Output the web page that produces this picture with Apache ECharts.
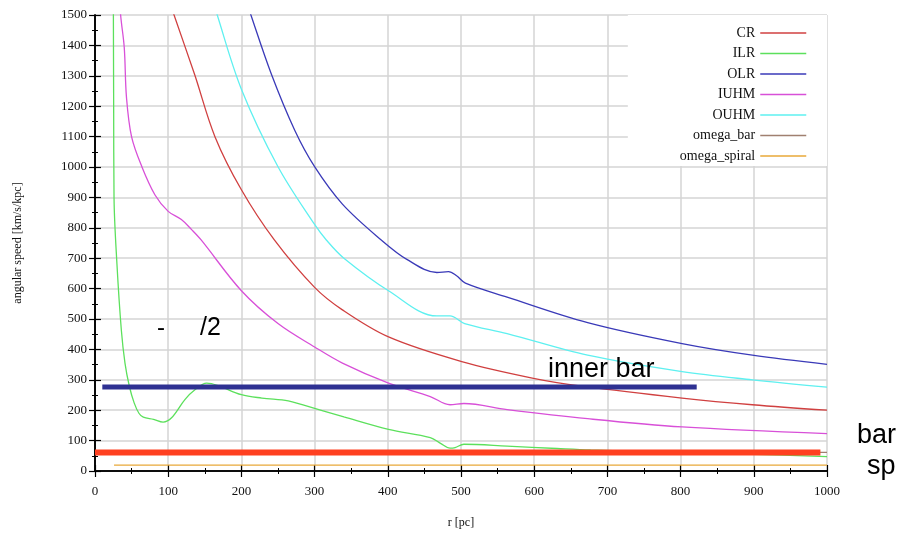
<!DOCTYPE html>
<html>
<head>
<meta charset="utf-8">
<script src="https://cdn.jsdelivr.net/npm/echarts@6/dist/echarts.min.js"></script>
<style>
  html, body { margin: 0; padding: 0; background: #fff; }
  #chart { width: 905px; height: 534px; }
</style>
</head>
<body>
<div id="chart"></div>
<script>
// r [pc], angular speed [km/s/kpc]
var crData = [[100, 1560], [108, 1500], [136, 1305], [164, 1099], [200, 925], [245, 760], [300, 604], [338, 530], [401, 441], [501, 360], [599, 305], [665, 279], [802, 240], [898, 218], [1000, 200]];
var ilrData = [[25, 1600], [25.5, 1200], [26, 900], [30, 680], [36, 463], [41, 354], [47, 278], [53.5, 224], [60, 190], [66, 177], [80, 170], [93, 161], [104.6, 175], [122.8, 235], [136.5, 267], [152.5, 289], [168, 281], [200, 251], [228, 240], [264, 231], [283, 218], [340, 178], [401, 137], [458, 110], [472, 91], [485, 75], [492, 77], [504, 88], [563, 82], [631, 74], [677, 69], [800, 60], [900, 55], [1000, 47]];
var olrData = [[205, 1560], [213, 1500], [241, 1305], [273, 1120], [300, 1001], [338, 878], [391, 760], [426, 696], [467, 653], [483, 656], [494, 642], [506, 618], [563, 572], [673, 488], [802, 419], [898, 381], [1000, 351]];
var iuhmData = [[34, 1560], [35, 1500], [40, 1392], [43, 1229], [50, 1099], [64, 1001], [82, 908], [100, 854], [118, 827], [132, 794], [145, 760], [200, 593], [250, 485], [300, 408], [338, 355], [401, 289], [458, 245], [485, 218], [504, 222], [563, 202], [673, 172], [802, 145], [1000, 123]];
var ouhmData = [[160, 1560], [167, 1500], [200, 1256], [250, 1001], [300, 811], [316, 760], [340, 700], [401, 593], [467, 510], [485, 510], [505, 485], [563, 452], [673, 381], [802, 327], [898, 300], [1000, 276]];
var omegaBarData = [[0, 61], [1000, 61]];
var omegaSpiralData = [[26, 19], [1000, 19]];
// hand-drawn markers on top of the plot
var innerBarLine = [[10, 276], [822, 276]];
var barLine = [[0, 61], [991, 61]];

var names = ["CR", "ILR", "OLR", "IUHM", "OUHM", "omega_bar", "omega_spiral"];
var colors = ["#d04040", "#5ce05c", "#3a3ab8", "#d850d8", "#5ef0f0", "#a08070", "#e8a838"];
var datas = [crData, ilrData, olrData, iuhmData, ouhmData, omegaBarData, omegaSpiralData];

var serif = "Liberation Serif";
var sans = "Liberation Sans";

var dom = document.getElementById("chart");
var myChart = echarts.init(dom, null, { renderer: "canvas" });

var series = [];
for (var i = 0; i < names.length; i++) {
  series.push({
    name: names[i],
    type: "line",
    data: datas[i],
    symbol: "none",
    smooth: i < 5 ? 0.35 : false,
    color: colors[i],
    lineStyle: { width: 1.3, color: colors[i] },
    z: 3,
    animation: false,
  });
}
series.push({
  name: "inner bar",
  type: "line",
  data: innerBarLine,
  symbol: "none",
  lineStyle: { width: 5, color: "#2e3192" },
  z: 5,
  animation: false,
});
series.push({
  name: "bar",
  type: "line",
  data: barLine,
  symbol: "none",
  lineStyle: { width: 6, color: "#ff4020" },
  z: 5,
  animation: false,
});

var axisCommon = {
  min: 0,
  axisLine: { show: true, lineStyle: { color: "#000", width: 1.6 } },
  axisTick: { show: true, inside: true, length: 6, lineStyle: { color: "#000", width: 1.2 } },
  minorTick: { show: true, splitNumber: 2, length: 3, lineStyle: { color: "#000", width: 1 } },
};

function plain(v) {
  return String(v);
}

option = {
  backgroundColor: "#fff",
  animation: false,
  grid: { left: 95, right: 78, top: 15, bottom: 59 },
  legend: {
    data: names,
    orient: "vertical",
    right: 78,
    top: 15,
    align: "right",
    itemWidth: 46,
    itemHeight: 14,
    itemGap: 6.5,
    padding: [11, 20, 3, 52],
    backgroundColor: "#fff",
    itemStyle: { opacity: 0 },
    lineStyle: { width: 1.5 },
    textStyle: { fontFamily: serif, fontSize: 14, color: "#111" },
    z: 10,
  },
  xAxis: [
    Object.assign({}, axisCommon, {
      type: "value",
      max: 1000,
      interval: 100,
      name: "r [pc]",
      nameLocation: "middle",
      nameGap: 46,
      nameTextStyle: { fontFamily: serif, fontSize: 12, color: "#111" },
      axisLabel: { fontFamily: serif, fontSize: 13, color: "#111", margin: 14, formatter: plain },
      splitLine: { show: true, lineStyle: { color: "#d4d4d4", width: 1.5 } },
    }),
    Object.assign({}, axisCommon, {
      type: "value",
      position: "top",
      max: 1000,
      interval: 100,
      axisLabel: { show: false },
      splitLine: { show: false },
    }),
  ],
  yAxis: [
    Object.assign({}, axisCommon, {
      type: "value",
      max: 1500,
      interval: 100,
      name: "angular speed [km/s/kpc]",
      nameLocation: "middle",
      nameGap: 71,
      nameTextStyle: { fontFamily: serif, fontSize: 12, color: "#111" },
      axisLabel: { fontFamily: serif, fontSize: 13, color: "#111", margin: 8, formatter: plain },
      splitLine: { show: true, lineStyle: { color: "#d4d4d4", width: 1.5 } },
    }),
    Object.assign({}, axisCommon, {
      type: "value",
      position: "right",
      max: 1500,
      interval: 100,
      axisLabel: { show: false },
      splitLine: { show: false },
    }),
  ],
  graphic: [
    { type: "text", left: 157, top: 316, z: 20, style: { text: "-", font: "24px " + sans, fill: "#000" } },
    { type: "text", left: 200, top: 316, z: 20, style: { text: "/2", font: "25px " + sans, fill: "#000" } },
    { type: "text", left: 548, top: 356, z: 20, style: { text: "inner bar", font: "27px " + sans, fill: "#000" } },
    { type: "text", left: 857, top: 422, z: 20, style: { text: "bar", font: "27px " + sans, fill: "#000" } },
    { type: "text", left: 867, top: 453, z: 20, style: { text: "sp", font: "27px " + sans, fill: "#000" } },
  ],
  series: series,
};

if (option && typeof option === "object") {
  myChart.setOption(option);
}
window.addEventListener("resize", myChart.resize);
</script>
</body>
</html>
